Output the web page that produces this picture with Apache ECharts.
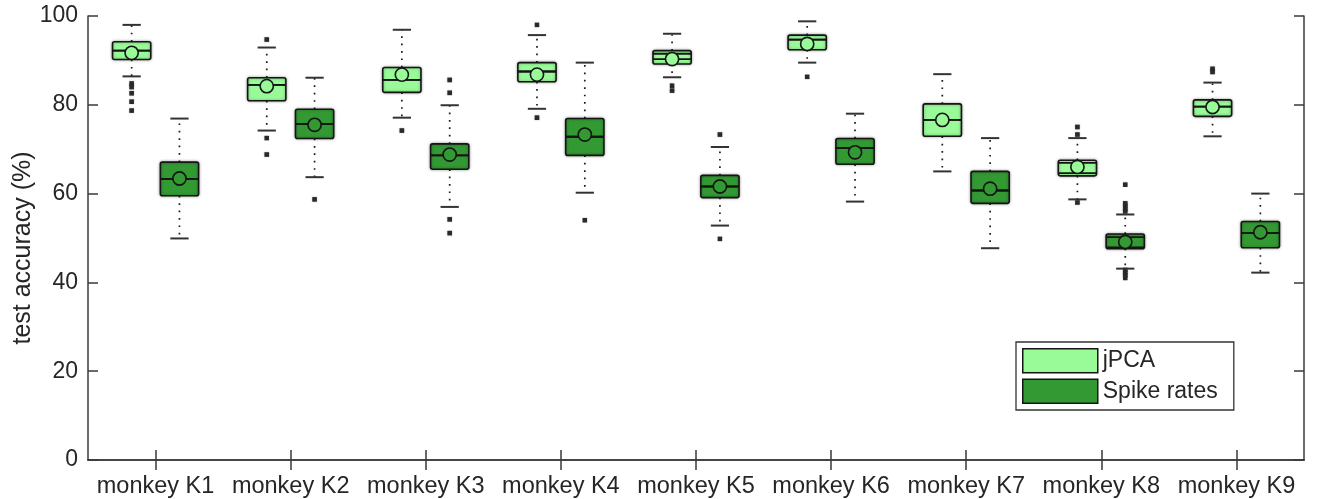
<!DOCTYPE html>
<html>
<head>
<meta charset="utf-8">
<script src="https://cdn.jsdelivr.net/npm/echarts@6/dist/echarts.min.js"></script>
<style>html,body{margin:0;padding:0;background:#fff}#c{width:1325px;height:499px}</style>
</head>
<body>
<div id="c"></div>
<script>
// ---- data ----
const categories = ['monkey K1','monkey K2','monkey K3','monkey K4','monkey K5','monkey K6','monkey K7','monkey K8','monkey K9'];
const yTicks = [0, 20, 40, 60, 80, 100];

// [lower whisker, Q1, median, Q3, upper whisker]
const jpcaStats = [
  [86.4, 90.2, 92.2, 94.2, 98.0],
  [74.2, 80.9, 84.5, 86.1, 92.9],
  [77.1, 82.8, 85.6, 88.4, 96.9],
  [79.1, 85.2, 87.5, 89.5, 95.7],
  [86.2, 89.2, 91.5, 92.2, 96.0],
  [89.5, 92.4, 94.7, 95.7, 98.8],
  [65.0, 72.9, 76.6, 80.2, 86.9],
  [58.7, 64.0, 66.9, 67.5, 72.5],
  [72.9, 77.4, 79.6, 81.1, 85.0]
];
const jpcaMean  = [91.7, 84.2, 86.8, 86.8, 90.3, 93.7, 76.6, 66.0, 79.5];
const jpcaLine2 = [92.2, 84.5, 85.6, 87.5, 90.3, 94.7, 76.6, 64.6, 79.6];
const jpcaOutliers = [
  [0, 84.8], [0, 84.0], [0, 82.6], [0, 80.7], [0, 78.7],
  [1, 94.7], [1, 72.5], [1, 68.8],
  [2, 74.2],
  [3, 98.0], [3, 77.1],
  [4, 84.3], [4, 83.2],
  [5, 86.3],
  [7, 75.0], [7, 73.3], [7, 58.0],
  [8, 88.1], [8, 87.4]
];

const spikeStats = [
  [49.9, 59.5, 63.3, 67.1, 76.9],
  [63.7, 72.4, 75.7, 79.0, 86.1],
  [57.0, 65.5, 68.6, 71.2, 79.9],
  [60.2, 68.6, 72.8, 76.9, 89.5],
  [52.8, 59.1, 61.6, 64.1, 70.5],
  [58.2, 66.6, 70.3, 72.4, 78.0],
  [47.7, 57.8, 60.7, 65.0, 72.5],
  [43.1, 47.6, 50.2, 50.9, 55.3],
  [42.2, 47.8, 51.1, 53.7, 60.0]
];
const spikeMean  = [63.4, 75.5, 68.8, 73.3, 61.6, 69.3, 61.1, 49.1, 51.3];
const spikeLine2 = [63.3, 75.7, 68.6, 72.8, 61.6, 70.3, 60.7, 47.9, 51.1];
const spikeOutliers = [
  [1, 58.7],
  [2, 85.6], [2, 82.7], [2, 54.2], [2, 51.1],
  [3, 54.0],
  [4, 73.3], [4, 49.8],
  [7, 62.0], [7, 57.8], [7, 57.2], [7, 56.6], [7, 56.0],
  [7, 42.8], [7, 42.2], [7, 41.6], [7, 41.0]
];

// ---- styling ----
const FONT = 'Liberation Sans, Arial, Helvetica, sans-serif';
const TEXT = '#262626';
const AXIS = '#3a3a3a';
const LIGHT = '#98fb98';
const DARK = '#339933';
const EDGE = '#151515';

function boxData(stats, mean, line2) {
  return stats.map((s, i) => [i].concat(s, [mean[i], line2[i]]));
}

function boxRenderer(offsetFrac, fill) {
  return function (params, api) {
    const i = api.value(0);
    const band = api.size([1, 0])[0];
    const cx = api.coord([i, 0])[0] + band * offsetFrac;
    const bw = band * 0.283;
    const capW = band * 0.135;
    const Y = k => api.coord([i, api.value(k)])[1];
    const lo = Y(1), q1 = Y(2), med = Y(3), q3 = Y(4), hi = Y(5), mean = Y(6), l2 = Y(7);
    const dotted = { stroke: '#1a1a1a', lineWidth: 1.7, lineDash: [1.7, 5.7] };
    const cap = { stroke: '#333', lineWidth: 2 };
    return {
      type: 'group',
      children: [
        { type: 'line', shape: { x1: cx, y1: q3, x2: cx, y2: hi }, style: dotted },
        { type: 'line', shape: { x1: cx, y1: q1, x2: cx, y2: lo }, style: dotted },
        { type: 'line', shape: { x1: cx - capW / 2, y1: hi, x2: cx + capW / 2, y2: hi }, style: cap },
        { type: 'line', shape: { x1: cx - capW / 2, y1: lo, x2: cx + capW / 2, y2: lo }, style: cap },
        { type: 'rect', shape: { x: cx - bw / 2, y: q3, width: bw, height: q1 - q3, r: 2 },
          style: { fill: fill, stroke: EDGE, lineWidth: 1.6, shadowBlur: 3, shadowColor: 'rgba(0,0,0,0.35)' } },
        { type: 'line', shape: { x1: cx - bw / 2, y1: med, x2: cx + bw / 2, y2: med }, style: { stroke: EDGE, lineWidth: 1.8 } },
        { type: 'line', shape: { x1: cx - bw / 2, y1: l2, x2: cx + bw / 2, y2: l2 }, style: { stroke: EDGE, lineWidth: 1.8 } },
        { type: 'circle', shape: { cx: cx, cy: mean, r: 6.6 }, style: { fill: fill, stroke: EDGE, lineWidth: 1.6 } }
      ]
    };
  };
}

function outlierRenderer(offsetFrac) {
  return function (params, api) {
    const i = api.value(0);
    const band = api.size([1, 0])[0];
    const p = api.coord([i, api.value(1)]);
    const x = p[0] + band * offsetFrac;
    return { type: 'rect', shape: { x: x - 2.3, y: p[1] - 2.3, width: 4.6, height: 4.6 },
             style: { fill: '#2a2a2a', shadowBlur: 1.5, shadowColor: 'rgba(0,0,0,0.4)' } };
  };
}

const OFF = 0.177;
const axisLineStyle = { color: AXIS, width: 1.5 };

const option = {
  animation: false,
  backgroundColor: '#fff',
  grid: { left: 88, right: 21, top: 16, bottom: 38, containLabel: false },
  xAxis: [
    { type: 'category', data: categories, position: 'bottom',
      axisLine: { show: true, lineStyle: axisLineStyle },
      axisTick: { show: true, inside: true, length: 10, alignWithLabel: true, lineStyle: axisLineStyle },
      axisLabel: { interval: 0, fontSize: 23.5, color: TEXT, fontFamily: FONT, margin: 15 },
      splitLine: { show: false } },
    { type: 'category', data: categories, position: 'top',
      axisLine: { show: true, lineStyle: axisLineStyle },
      axisTick: { show: true, inside: true, length: 10, alignWithLabel: true, lineStyle: axisLineStyle },
      axisLabel: { show: false }, splitLine: { show: false } }
  ],
  yAxis: [
    { type: 'value', min: yTicks[0], max: yTicks[yTicks.length - 1], interval: yTicks[1] - yTicks[0], position: 'left',
      axisLine: { show: true, lineStyle: axisLineStyle },
      axisTick: { show: true, inside: true, length: 10, lineStyle: axisLineStyle },
      axisLabel: { fontSize: 23, color: TEXT, fontFamily: FONT, margin: 10, padding: [5, 0, 0, 0] },
      splitLine: { show: false } },
    { type: 'value', min: yTicks[0], max: yTicks[yTicks.length - 1], interval: yTicks[1] - yTicks[0], position: 'right',
      axisLine: { show: true, lineStyle: axisLineStyle },
      axisTick: { show: true, inside: true, length: 10, lineStyle: axisLineStyle },
      axisLabel: { show: false }, splitLine: { show: false } }
  ],
  legend: {
    data: [
      { name: 'jPCA', itemStyle: { color: LIGHT, borderColor: EDGE, borderWidth: 1.5 } },
      { name: 'Spike rates', itemStyle: { color: DARK, borderColor: EDGE, borderWidth: 1.5 } }
    ],
    orient: 'vertical', left: 1016, top: 342, icon: 'rect',
    itemWidth: 75, itemHeight: 24, itemGap: 5,
    padding: [6, 16, 6, 6], borderColor: '#333', borderWidth: 1.3, backgroundColor: '#fff',
    selectedMode: false,
    textStyle: { fontSize: 23, color: TEXT, fontFamily: FONT }
  },
  graphic: [
    { type: 'text', x: 23, y: 248, rotation: Math.PI / 2,
      style: { text: 'test accuracy (%)', fontSize: 25, fill: TEXT, fontFamily: FONT, align: 'center', verticalAlign: 'middle' } }
  ],
  series: [
    { name: 'jPCA', type: 'custom', renderItem: boxRenderer(-OFF, LIGHT), itemStyle: { color: LIGHT },
      data: boxData(jpcaStats, jpcaMean, jpcaLine2), encode: { x: 0, y: [1, 2, 3, 4, 5, 6, 7] }, z: 3 },
    { name: 'Spike rates', type: 'custom', renderItem: boxRenderer(OFF, DARK), itemStyle: { color: DARK },
      data: boxData(spikeStats, spikeMean, spikeLine2), encode: { x: 0, y: [1, 2, 3, 4, 5, 6, 7] }, z: 3 },
    { name: 'jPCA', type: 'custom', renderItem: outlierRenderer(-OFF), itemStyle: { color: LIGHT },
      data: jpcaOutliers, encode: { x: 0, y: 1 }, z: 2 },
    { name: 'Spike rates', type: 'custom', renderItem: outlierRenderer(OFF), itemStyle: { color: DARK },
      data: spikeOutliers, encode: { x: 0, y: 1 }, z: 2 }
  ]
};

const chart = echarts.init(document.getElementById('c'), null, { renderer: 'canvas' });
chart.setOption(option);
</script>
</body>
</html>
